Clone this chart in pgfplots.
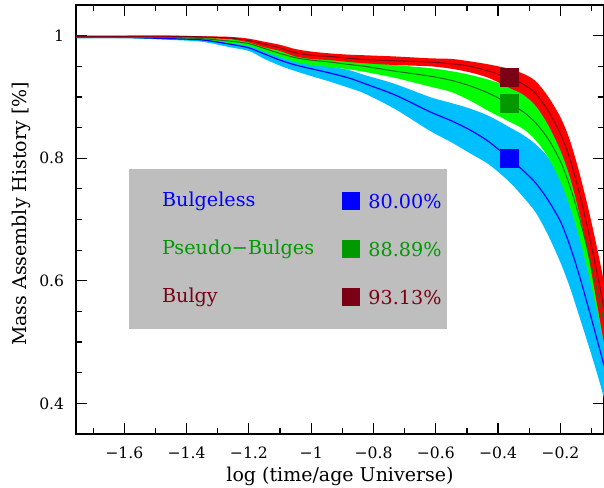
\documentclass[border=0pt]{standalone}
\usepackage{pgfplots}
\pgfplotsset{compat=1.18}
\usepgfplotslibrary{fillbetween}
\usepackage{pgfplotstable}
\usepackage{fontspec}
\setmainfont{DejaVu Serif}

\definecolor{skyband}{RGB}{0,191,255}
\definecolor{blueline}{RGB}{0,0,255}
\definecolor{greenband}{RGB}{0,255,0}
\definecolor{pseudogreen}{RGB}{0,153,0}
\definecolor{greenline}{RGB}{30,105,30}
\definecolor{redband}{RGB}{255,0,0}
\definecolor{bulgyred}{RGB}{122,0,22}
\definecolor{boxgray}{RGB}{190,190,190}

% mass assembly history: lower edge, median, upper edge
\pgfplotstableread{
x      lo    mid   hi
-1.76  0.996 0.997 0.998
-1.60  0.996 0.997 0.998
-1.45  0.993 0.995 0.997
-1.35  0.990 0.993 0.996
-1.26  0.981 0.986 0.990
-1.20  0.975 0.980 0.986
-1.15  0.962 0.970 0.976
-1.10  0.951 0.960 0.968
-1.05  0.942 0.952 0.961
-1.00  0.934 0.946 0.956
-0.94  0.925 0.939 0.950
-0.88  0.915 0.931 0.944
-0.83  0.906 0.922 0.936
-0.73  0.880 0.903 0.921
-0.62  0.845 0.876 0.900
-0.55  0.826 0.861 0.890
-0.49  0.808 0.846 0.881
-0.43  0.790 0.827 0.869
-0.365 0.762 0.800 0.851
-0.32  0.737 0.780 0.838
-0.28  0.712 0.760 0.823
-0.24  0.675 0.732 0.802
-0.20  0.630 0.697 0.770
-0.17  0.590 0.658 0.728
-0.14  0.543 0.610 0.675
-0.11  0.495 0.556 0.615
-0.08  0.445 0.500 0.555
-0.05  0.390 0.443 0.490
}\bulgeless

\pgfplotstableread{
x      lo    mid   hi
-1.76  0.996 0.997 0.998
-1.60  0.996 0.997 0.998
-1.45  0.995 0.997 0.998
-1.35  0.993 0.995 0.997
-1.26  0.988 0.991 0.994
-1.20  0.983 0.987 0.991
-1.15  0.974 0.979 0.984
-1.10  0.965 0.971 0.977
-1.05  0.957 0.964 0.970
-1.00  0.952 0.960 0.966
-0.94  0.949 0.957 0.963
-0.88  0.945 0.953 0.960
-0.83  0.941 0.950 0.957
-0.73  0.931 0.942 0.952
-0.62  0.917 0.934 0.947
-0.55  0.908 0.927 0.942
-0.49  0.894 0.918 0.936
-0.43  0.877 0.906 0.928
-0.365 0.860 0.889 0.917
-0.32  0.848 0.876 0.906
-0.28  0.830 0.858 0.889
-0.24  0.802 0.832 0.866
-0.20  0.762 0.795 0.832
-0.17  0.722 0.755 0.795
-0.14  0.672 0.705 0.748
-0.11  0.612 0.645 0.690
-0.08  0.545 0.580 0.628
-0.05  0.475 0.510 0.565
}\pseudobulges

\pgfplotstableread{
x      lo    mid   hi
-1.76  0.998 0.999 1.000
-1.60  0.998 0.999 1.000
-1.45  0.998 0.999 1.000
-1.35  0.996 0.998 0.999
-1.26  0.994 0.996 0.998
-1.20  0.989 0.992 0.995
-1.15  0.981 0.986 0.990
-1.10  0.975 0.980 0.985
-1.05  0.966 0.972 0.978
-1.00  0.962 0.968 0.974
-0.94  0.960 0.966 0.971
-0.88  0.957 0.963 0.969
-0.83  0.955 0.961 0.968
-0.73  0.952 0.959 0.966
-0.62  0.950 0.957 0.963
-0.55  0.946 0.954 0.962
-0.49  0.940 0.950 0.958
-0.43  0.931 0.942 0.953
-0.365 0.915 0.931 0.946
-0.32  0.904 0.921 0.938
-0.28  0.886 0.906 0.926
-0.24  0.855 0.878 0.901
-0.20  0.813 0.840 0.867
-0.17  0.770 0.800 0.830
-0.14  0.712 0.745 0.778
-0.11  0.640 0.680 0.717
-0.08  0.555 0.607 0.648
-0.05  0.470 0.530 0.572
}\bulgy

\begin{document}
\begin{tikzpicture}
\begin{axis}[
  at={(38pt,26.5pt)}, anchor=south west,
  scale only axis, width=264pt, height=214.5pt,
  xmin=-1.755, xmax=-0.06, ymin=0.35, ymax=1.05,
  axis line style={line width=1pt},
  tick align=inside,
  xtick pos=both, ytick pos=both,
  xticklabel pos=lower, yticklabel pos=left,
  major tick length=5.3pt, minor tick length=3pt,
  every tick/.style={black, line width=0.6pt},
  xtick={-1.6,-1.4,-1.2,-1,-0.8,-0.6,-0.4,-0.2},
  xticklabels={−1.6,−1.4,−1.2,−1,−0.8,−0.6,−0.4,−0.2},
  minor xtick={-1.7,-1.5,-1.3,-1.1,-0.9,-0.7,-0.5,-0.3,-0.1},
  ytick={0.4,0.6,0.8,1},
  yticklabels={0.4,0.6,0.8,1},
  minor ytick={0.45,0.5,0.55,0.65,0.7,0.75,0.85,0.9,0.95},
  tick label style={font=\fontsize{7.8}{9}\selectfont},
  xticklabel style={yshift=-2.9pt},
  yticklabel style={xshift=-2.4pt},
  xlabel={log (time/age Universe)},
  ylabel={Mass Assembly History [\%]},
  label style={font=\fontsize{9.5}{11}\selectfont},
  xlabel style={at={(axis description cs:0.5,-0.098)}, anchor=center},
  ylabel style={at={(axis description cs:-0.104,0.513)}, anchor=center},
]

% Bulgeless band and median
\addplot[name path=blhi, draw=none, smooth] table[x=x, y=hi] {\bulgeless};
\addplot[name path=bllo, draw=none, smooth] table[x=x, y=lo] {\bulgeless};
\addplot[fill=skyband, draw=none] fill between[of=blhi and bllo];
\addplot[blueline, line width=0.6pt, smooth] table[x=x, y=mid] {\bulgeless};

% Pseudo-bulges band and median
\addplot[name path=pshi, draw=none, smooth] table[x=x, y=hi] {\pseudobulges};
\addplot[name path=pslo, draw=none, smooth] table[x=x, y=lo] {\pseudobulges};
\addplot[fill=greenband, draw=none] fill between[of=pshi and pslo];
\addplot[greenline, line width=0.5pt, smooth] table[x=x, y=mid] {\pseudobulges};

% Bulgy band and median
\addplot[name path=bghi, draw=none, smooth] table[x=x, y=hi] {\bulgy};
\addplot[name path=bglo, draw=none, smooth] table[x=x, y=lo] {\bulgy};
\addplot[fill=redband, draw=none] fill between[of=bghi and bglo];
\addplot[bulgyred, line width=0.5pt, smooth] table[x=x, y=mid] {\bulgy};

% fractions at the reference epoch
\addplot[only marks, mark=square*, mark size=4.5pt, mark options={fill=blueline, draw=blueline, line width=0pt}] coordinates {(-0.365,0.8000)};
\addplot[only marks, mark=square*, mark size=4.5pt, mark options={fill=pseudogreen, draw=pseudogreen, line width=0pt}] coordinates {(-0.365,0.8889)};
\addplot[only marks, mark=square*, mark size=4.5pt, mark options={fill=bulgyred, draw=bulgyred, line width=0pt}] coordinates {(-0.365,0.9313)};

% key
\fill[boxgray] (axis cs:-1.585,0.5208) rectangle (axis cs:-0.564,0.7816);
\begin{scope}[every node/.style={inner sep=0pt, anchor=base west, font=\fontsize{9.6}{11}\selectfont}]
\node[text=blueline] at (axis cs:-1.480,0.7208) {Bulgeless};
\node[text=pseudogreen] at (axis cs:-1.480,0.6430) {Pseudo−Bulges};
\node[text=bulgyred] at (axis cs:-1.480,0.5653) {Bulgy};
\node[text=blueline] at (axis cs:-0.901,0.7180) {\rule[-0.85pt]{9pt}{9pt}\hspace{4pt}80.00\%};
\node[text=pseudogreen] at (axis cs:-0.901,0.6400) {\rule[-0.85pt]{9pt}{9pt}\hspace{4pt}88.89\%};
\node[text=bulgyred] at (axis cs:-0.901,0.5620) {\rule[-0.85pt]{9pt}{9pt}\hspace{4pt}93.13\%};
\end{scope}
\end{axis}
\pgfresetboundingbox
\path[use as bounding box] (0,0) rectangle (302pt,243.5pt);
\end{tikzpicture}
\end{document}
